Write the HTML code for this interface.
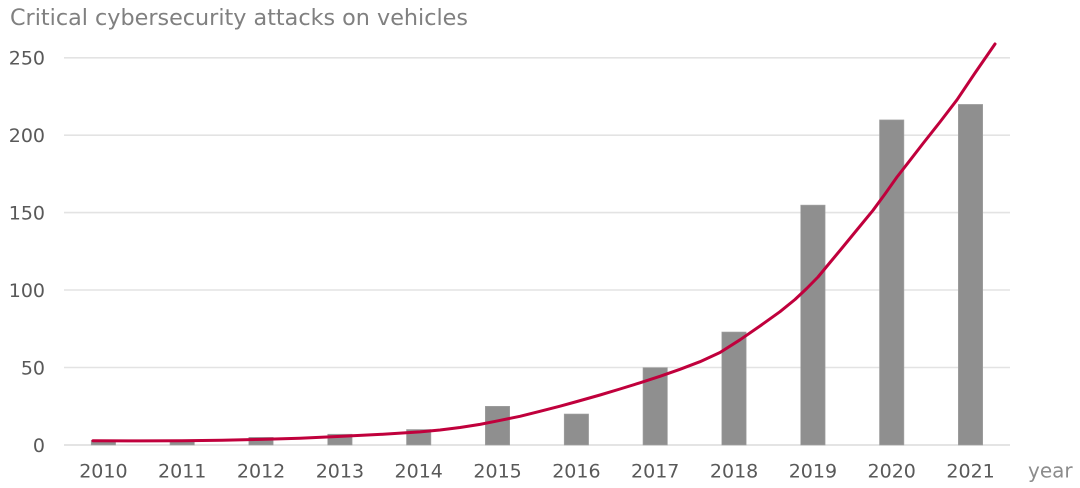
<!DOCTYPE html>
<html>
<head>
<meta charset="utf-8">
<style>
  html,body{margin:0;padding:0;background:#fff;}
  svg{display:block;}
  text{font-family:"DejaVu Sans","Liberation Sans",sans-serif;}
</style>
</head>
<body>
<svg width="1080" height="488" viewBox="0 0 1080 488" xmlns="http://www.w3.org/2000/svg">
  <rect width="1080" height="488" fill="#ffffff"/>
  <!-- Title -->
  <text x="10" y="25" font-size="22" fill="#808080" textLength="458" lengthAdjust="spacingAndGlyphs">Critical cybersecurity attacks on vehicles</text>

  <!-- Gridlines -->
  <g stroke="#e3e3e3" stroke-width="1.6">
    <line x1="64" y1="57.8" x2="1010" y2="57.8"/>
    <line x1="64" y1="135.2" x2="1010" y2="135.2"/>
    <line x1="64" y1="212.6" x2="1010" y2="212.6"/>
    <line x1="64" y1="290" x2="1010" y2="290"/>
    <line x1="64" y1="367.5" x2="1010" y2="367.5"/>
    <line x1="64" y1="445" x2="1010" y2="445" stroke="#dcdcdc"/>
  </g>

  <!-- Y labels -->
  <g font-size="19" fill="#595959" text-anchor="end">
    <text x="45" y="64.5">250</text>
    <text x="45" y="142">200</text>
    <text x="45" y="219.5">150</text>
    <text x="45" y="297">100</text>
    <text x="45" y="374.5">50</text>
    <text x="45" y="452">0</text>
  </g>

  <!-- Bars -->
  <g fill="#8f8f8f" stroke="#a3a3a3" stroke-width="0.6">
    <rect x="91.2" y="440.4" width="24.4" height="4.6"/>
    <rect x="170.0" y="440.4" width="24.4" height="4.6"/>
    <rect x="248.8" y="437.3" width="24.4" height="7.7"/>
    <rect x="327.7" y="434.2" width="24.4" height="10.8"/>
    <rect x="406.5" y="429.5" width="24.4" height="15.5"/>
    <rect x="485.3" y="406.3" width="24.4" height="38.7"/>
    <rect x="564.2" y="414.0" width="24.4" height="31.0"/>
    <rect x="643.0" y="367.6" width="24.4" height="77.4"/>
    <rect x="721.8" y="332.0" width="24.4" height="113.0"/>
    <rect x="800.7" y="205.1" width="24.4" height="239.9"/>
    <rect x="879.5" y="119.9" width="24.4" height="325.1"/>
    <rect x="958.3" y="104.4" width="24.4" height="340.6"/>
  </g>

  <!-- Curve -->
  <polyline fill="none" stroke="#c0003c" stroke-width="3" stroke-linejoin="round" stroke-linecap="round"
    points="93,440.7 140,440.9 182,440.8 222,440.3 261,439.4 300,438.2 340,436.4 380,434.4 420,431.9 440,430 460,427.5 480,424.4 498,420.8 520,416.3 540,411.3 560,406.2 577,401.5 600,395 620,389 640,382.8 660,376.3 680,369.3 700,361.7 720,352.5 740,339.8 760,326 780,311.7 795,299.5 806.7,288.5 818,277 830,262.5 840,250.5 856,231 873,210.3 885,194 897,177 910,160.3 923,143.5 940,122 957,99.8 975,73 995,44"/>

  <!-- X labels -->
  <g font-size="19" fill="#595959" text-anchor="middle">
    <text x="103.4" y="477.5">2010</text>
    <text x="182.2" y="477.5">2011</text>
    <text x="261.1" y="477.5">2012</text>
    <text x="339.9" y="477.5">2013</text>
    <text x="418.7" y="477.5">2014</text>
    <text x="497.6" y="477.5">2015</text>
    <text x="576.4" y="477.5">2016</text>
    <text x="655.2" y="477.5">2017</text>
    <text x="734.1" y="477.5">2018</text>
    <text x="812.9" y="477.5">2019</text>
    <text x="891.7" y="477.5">2020</text>
    <text x="970.6" y="477.5">2021</text>
  </g>
  <text x="1028" y="477.5" font-size="20" fill="#8c8c8c">year</text>
</svg>
</body>
</html>
